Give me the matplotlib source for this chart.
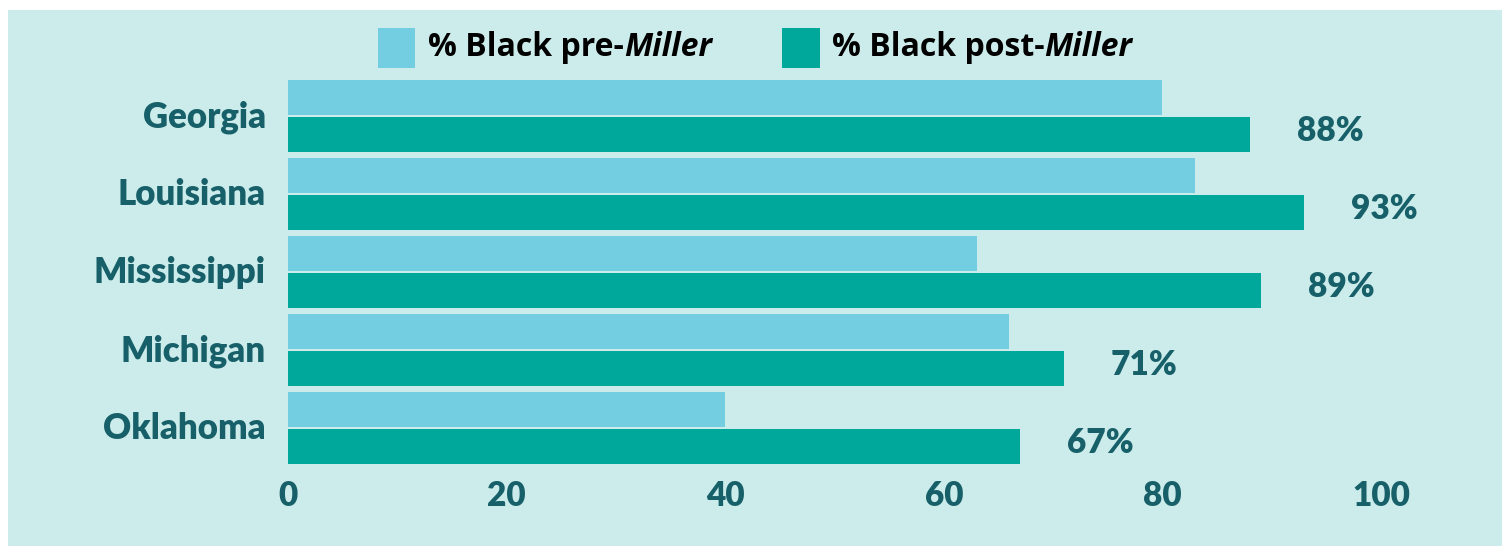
import matplotlib.pyplot as plt
from matplotlib.patches import Rectangle

states = ["Georgia", "Louisiana", "Mississippi", "Michigan", "Oklahoma"]
pre_miller = [80, 83, 63, 66, 40]
post_miller = [88, 93, 89, 71, 67]
x_ticks = [0, 20, 40, 60, 80, 100]

PANEL = "#cbecea"
PRE = "#72cee0"
POST = "#00a89c"
INK = "#17606a"
FONT = "Lato"

W, H = 1509, 546
fig = plt.figure(figsize=(W / 100, H / 100), dpi=100)
fig.patch.set_facecolor("white")

# light panel behind everything
fig.add_artist(Rectangle((8 / W, 0), (1502 - 8) / W, (H - 10) / H,
                         transform=fig.transFigure, facecolor=PANEL,
                         edgecolor="none", zorder=0))

left, right, top, bottom = 288, 1381, 78, 466
ax = fig.add_axes([left / W, 1 - bottom / H, (right - left) / W, (bottom - top) / H])
ax.set_facecolor("none")

pos = list(range(len(states)))
bar_h = 0.45
off = 0.237
ax.barh([p - off for p in pos], pre_miller, height=bar_h, color=PRE)
ax.barh([p + off for p in pos], post_miller, height=bar_h, color=POST)

ax.set_xlim(0, 100)
ax.set_ylim(len(states) - 1 + 0.487, -0.487)

for p, v in zip(pos, post_miller):
    ax.text(v + 4.3, p + off - 0.05, f"{v}%", ha="left", va="center",
            fontsize=24, fontweight="heavy", family=FONT, color=INK, clip_on=False)

ax.set_yticks([p - 0.03 for p in pos])
ax.set_yticklabels(states, fontsize=25, fontweight="heavy", family=FONT, color=INK)
ax.set_xticks(x_ticks)
ax.set_xticklabels([str(t) for t in x_ticks], fontsize=24, fontweight="heavy",
                   family=FONT, color=INK)
ax.tick_params(axis="both", length=0)
ax.tick_params(axis="y", pad=16)
ax.tick_params(axis="x", pad=10)
for s in ax.spines.values():
    s.set_visible(False)

# legend row
leg_y = 1 - 48 / H
sq_h = 40 / H
for x0, x1, col, txt, tx in [(378, 415, PRE, "% Black pre-", 428),
                             (782, 820, POST, "% Black post-", 832)]:
    fig.add_artist(Rectangle((x0 / W, leg_y - sq_h / 2), (x1 - x0) / W, sq_h,
                             transform=fig.transFigure, facecolor=col,
                             edgecolor="none", zorder=2))
    t = fig.text(tx / W, leg_y, txt, ha="left", va="center", fontsize=23,
                 fontweight="bold", family="Open Sans", color="black")
    fig.canvas.draw()
    bb = t.get_window_extent()
    fig.text(bb.x1 / W, leg_y, "Miller", ha="left", va="center", fontsize=23,
             fontweight="bold", style="italic", family="Open Sans", color="black")

fig.savefig("out.png", dpi=100, facecolor=fig.get_facecolor())
